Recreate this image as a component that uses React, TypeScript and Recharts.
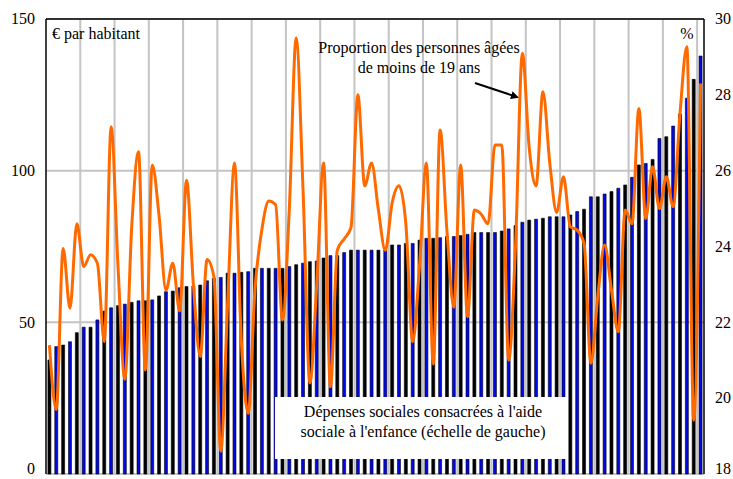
import React from 'react';
import { ComposedChart, Bar, Line, XAxis, YAxis, CartesianGrid, Cell, ReferenceLine } from 'recharts';

// Social spending on child welfare (€ per inhabitant), sorted ascending, one per département
const spending: number[] = [
  37.6, 42, 42.5, 43.6, 46.6, 48.4, 48.4, 50.8, 53.7, 54.8,
  55.5, 56, 56.6, 57.1, 57.1, 57.4, 58.7, 60.1, 60.3, 61.4,
  61.8, 62, 62.3, 63.7, 64.5, 64.8, 66.2, 66.2, 66.5, 66.7,
  67.8, 67.8, 67.8, 67.8, 67.8, 68.4, 69.0, 69.5, 70.0, 70.2,
  71.2, 72, 72, 73, 73.8, 73.8, 73.8, 73.8, 73.8, 73.8,
  75.5, 75.5, 76, 76, 77.1, 77.7, 77.7, 77.9, 78.3, 78.3,
  78.6, 79, 79.6, 79.6, 79.6, 79.6, 80.1, 80.8, 81.9, 83,
  83.7, 84, 84.3, 84.8, 84.8, 84.8, 85.4, 86.5, 87.3, 91.4,
  91.4, 92.3, 93.1, 94.2, 95.3, 97.8, 101.9, 102.4, 103.7, 110.6,
  111.2, 114.7, 118.7, 123.9, 130.1, 137.8,
];

// Share of people aged under 19 (%), right scale
const youthShare: number[] = [
  21.4, 19.7, 23.95, 22.37, 24.6, 23.47, 23.78, 23.55, 21.49, 27.16,
  23.5, 20.5, 24.5, 26.5, 20.74, 26.15, 24.8, 22.85, 23.56, 22.3,
  25.75, 23.0, 21.1, 23.66, 23.2, 18.6, 22.5, 26.2, 21.5, 19.6,
  22.9, 24.45, 25.2, 25.1, 22.06, 25.0, 29.5, 25.5, 20.4, 23.0,
  26.2, 20.3, 23.9, 24.2, 24.5, 28.0, 25.6, 26.2, 24.96, 23.9,
  25.15, 25.6, 24.6, 21.49, 23.5, 26.2, 20.9, 27.07, 24.4, 22.4,
  26.15, 22.15, 24.96, 24.85, 24.6, 26.68, 26.68, 21.0, 24.0, 29.1,
  26.6, 25.6, 28.08, 26.2, 24.9, 25.84, 24.52, 24.43, 24.08, 20.92,
  22.68, 24.04, 22.85, 21.75, 24.96, 24.6, 27.64, 24.74, 26.1, 25.0,
  25.84, 25.05, 27.51, 29.27, 19.42, 28.3,
];

const categories: string[] = spending.map((_, i) => `Dép. ${i + 1}`);
const leftTicks: number[] = [0, 50, 100, 150];
const rightTicks: number[] = [18, 20, 22, 24, 26, 28, 30];
// vertical grid line after every 5th département
const gridEvery = 5;

const W = 733;
const H = 479;
const FONT = '"Liberation Serif", "Times New Roman", serif';
const textStyle = { fontFamily: FONT, fontSize: 16 };

const makeTick = (anchor: 'start' | 'end') => (props: any) => {
  const { x, y, payload } = props;
  // keep the lowest label inside the picture
  const ty = Math.min(y, H - 10);
  return (
    <text x={x} y={ty} dy="0.33em" textAnchor={anchor} style={textStyle} fill="#000">
      {payload.value}
    </text>
  );
};

export default function App() {
  const data = categories.map((name, i) => ({ name, spend: spending[i], youth: youthShare[i] }));
  const n = categories.length;
  const verticalGen = ({ offset }: any) => {
    const pts: number[] = [];
    for (let k = gridEvery; k < n; k += gridEvery) pts.push(offset.left + (offset.width * k) / n);
    return pts;
  };
  return (
    <div style={{ position: 'absolute', left: 0, top: 0, width: W, height: H, background: '#fff', fontFamily: FONT }}>
      <ComposedChart
        width={W}
        height={H}
        data={data}
        margin={{ top: 19, right: 0, bottom: 5, left: 0 }}
        barCategoryGap="28%"
        style={{ fontFamily: FONT }}
      >
        <CartesianGrid
          yAxisId="left"
          stroke="#c4c4c4"
          strokeWidth={2}
          verticalCoordinatesGenerator={verticalGen}
        />
        <XAxis
          dataKey="name"
          type="category"
          height={0}
          tick={false}
          tickLine={false}
          axisLine={{ stroke: '#000', strokeWidth: 3 }}
        />
        <YAxis
          yAxisId="left"
          domain={[0, 150]}
          ticks={leftTicks}
          interval={0}
          width={46}
          tickLine={false}
          tickSize={6}
          tickMargin={5}
          axisLine={{ stroke: '#000', strokeWidth: 1.5 }}
          tick={makeTick('end')}
        />
        <YAxis
          yAxisId="right"
          orientation="right"
          domain={[18, 30]}
          ticks={rightTicks}
          interval={0}
          width={29}
          tickLine={false}
          tickSize={6}
          tickMargin={5}
          axisLine={{ stroke: '#000', strokeWidth: 1.5 }}
          tick={makeTick('start')}
        />
        <Bar yAxisId="left" dataKey="spend" isAnimationActive={false} stroke="#000" strokeWidth={0.6}>
          {data.map((d, i) => (
            <Cell key={d.name} fill={i % 2 === 0 ? '#000' : '#0008e6'} />
          ))}
        </Bar>
        <ReferenceLine yAxisId="left" y={150} stroke="#000" strokeWidth={1.5} />
        <Line
          yAxisId="right"
          dataKey="youth"
          type="monotone"
          stroke="#ff6a00"
          strokeWidth={3}
          dot={false}
          activeDot={false}
          isAnimationActive={false}
        />
      </ComposedChart>
      <svg
        width={W}
        height={H}
        style={{ position: 'absolute', left: 0, top: 0, pointerEvents: 'none', ...textStyle }}
      >
        <defs>
          <marker id="ah" markerWidth="8" markerHeight="8" refX="6" refY="4" orient="auto" markerUnits="userSpaceOnUse">
            <path d="M0,0 L8,4 L0,8 z" fill="#000" />
          </marker>
        </defs>
        <text x={52} y={39} fill="#000">€ par habitant</text>
        <text x={687} y={39} fill="#000" textAnchor="middle">%</text>
        <text x={419} y={53} fill="#000" textAnchor="middle">Proportion des personnes âgées</text>
        <text x={419} y={73} fill="#000" textAnchor="middle">de moins de 19 ans</text>
        <line x1={475} y1={83} x2={517} y2={97} stroke="#000" strokeWidth={2} markerEnd="url(#ah)" />
        <rect x={275} y={397} width={292} height={62} fill="#fff" />
        <text x={423} y={417} fill="#000" textAnchor="middle">Dépenses sociales consacrées à l'aide</text>
        <text x={423} y={437} fill="#000" textAnchor="middle">sociale à l'enfance (échelle de gauche)</text>
      </svg>
    </div>
  );
}
